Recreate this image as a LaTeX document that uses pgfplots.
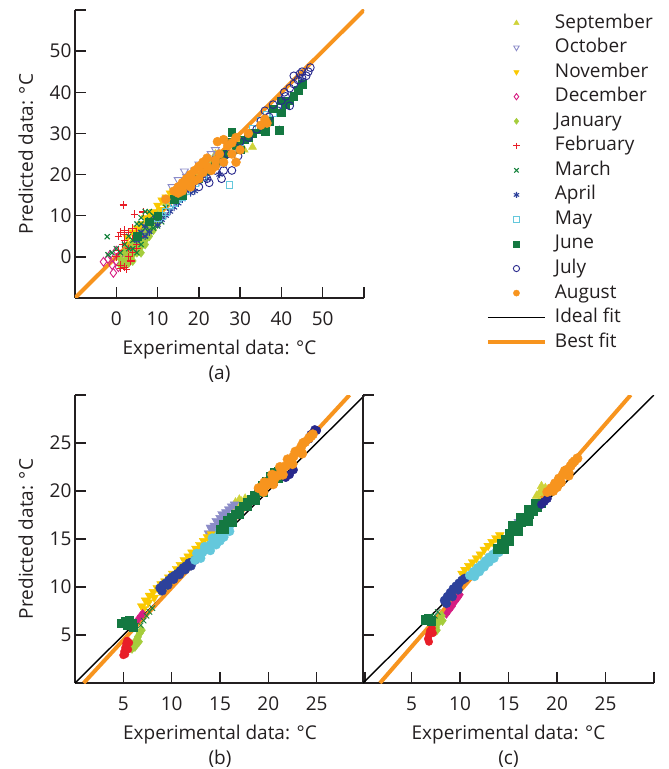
\documentclass[border=0pt]{standalone}
\usepackage{pgfplots}
\pgfplotsset{compat=1.18}
\usepackage{fontspec}
\setmainfont{Open Sans}
\definecolor{cSep}{RGB}{207,211,58}
\definecolor{cOct}{RGB}{140,140,200}
\definecolor{cNov}{RGB}{250,200,0}
\definecolor{cDec}{RGB}{214,30,130}
\definecolor{cJan}{RGB}{165,205,60}
\definecolor{cFeb}{RGB}{232,30,40}
\definecolor{cMar}{RGB}{20,130,60}
\definecolor{cApr}{RGB}{45,65,155}
\definecolor{cMay}{RGB}{100,200,220}
\definecolor{cJun}{RGB}{20,120,65}
\definecolor{cJul}{RGB}{40,40,140}
\definecolor{cAug}{RGB}{247,148,30}
\definecolor{cAx}{RGB}{35,31,32}
\newcommand{\F}{\fontsize{19}{23}\selectfont}
\pgfplotsset{
  base/.style={
    scale only axis,
    axis lines=left,
    axis line style={-, line width=1.5pt, cAx},
    tick align=inside,
    major tick length=11pt,
    tick style={line width=1.5pt, cAx},
    /pgf/number format/assume math mode=true,
    tick label style={font=\F, text=cAx},
    label style={font=\F, text=cAx},
    xlabel style={align=center, at={(axis description cs:0.5,-0.22)}, anchor=center},
    ylabel style={at={(axis description cs:-0.17,0.5)}, anchor=center},
    xticklabel shift=10pt,
    clip=true,
  },
  aSep/.style={only marks, mark=triangle*, color=cSep, mark size=4.6pt},
  aOct/.style={only marks, mark=triangle, color=cOct, mark size=4.6pt, mark options={rotate=180, line width=0.9pt}},
  aNov/.style={only marks, mark=triangle*, color=cNov, mark size=4.6pt, mark options={rotate=180}},
  aDec/.style={only marks, mark=diamond, color=cDec, mark size=4.4pt, mark options={line width=0.9pt}},
  aJan/.style={only marks, mark=diamond*, color=cJan, mark size=4.6pt},
  aFeb/.style={only marks, mark=+, color=cFeb, mark size=3.8pt, mark options={line width=1.1pt}},
  aMar/.style={only marks, mark=x, color=cMar, mark size=3.6pt, mark options={line width=1.1pt}},
  aApr/.style={only marks, mark=asterisk, color=cApr, mark size=3.6pt, mark options={line width=1.1pt}},
  aMay/.style={only marks, mark=square, color=cMay, mark size=3.4pt, mark options={line width=0.9pt}},
  aJun/.style={only marks, mark=square*, color=cJun, mark size=3.8pt},
  aJul/.style={only marks, mark=o, color=cJul, mark size=3.9pt, mark options={line width=0.9pt}},
  aAug/.style={only marks, mark=*, color=cAug, mark size=4.5pt},
  bSep/.style={only marks, mark=triangle*, color=cSep, mark size=5pt},
  bOct/.style={only marks, mark=triangle*, color=cOct, mark size=5pt, mark options={rotate=180}},
  bNov/.style={only marks, mark=triangle*, color=cNov, mark size=5pt, mark options={rotate=180}},
  bDec/.style={only marks, mark=diamond*, color=cDec, mark size=4.5pt},
  bJan/.style={only marks, mark=diamond*, color=cJan, mark size=5pt},
  bFeb/.style={only marks, mark=*, color=cFeb, mark size=3.8pt},
  bMar/.style={only marks, mark=x, color=cMar, mark size=3.8pt, mark options={line width=0.8pt}},
  bApr/.style={only marks, mark=*, color=cApr, mark size=4.5pt},
  bMay/.style={only marks, mark=*, color=cMay, mark size=4.5pt},
  bJun/.style={only marks, mark=square*, color=cJun, mark size=4.2pt},
  bJul/.style={only marks, mark=*, color=cJul, mark size=4.2pt},
  bAug/.style={only marks, mark=*, color=cAug, mark size=4.8pt},
  ideal/.style={no marks, black, line width=1.4pt},
  best/.style={no marks, cAug, line width=4pt},
}
\begin{document}
\begin{tikzpicture}
\useasboundingbox (0,0) rectangle (669pt,769pt);
% ---------------- (a)
\begin{axis}[base,
  at={(75pt,471pt)}, anchor=south west,
  width=289pt, height=288pt,
  xmin=-10, xmax=60, ymin=-10, ymax=60,
  xtick={0,10,...,60}, xticklabels={0,10,20,30,40,50,{}},
  ytick={0,10,...,60}, yticklabels={0,10,20,30,40,50,{}},
  xlabel={Experimental data: °C\\[2pt](a)},
  ylabel={Predicted data: °C},
  legend cell align=left,
  legend image code/.code={\draw[mark repeat=2,mark phase=2,#1] plot coordinates {(0pt,0pt) (28.5pt,0pt) (57pt,0pt)};},
  legend image post style={mark size=3.1pt},
  legend style={at={(1.422,0.986)}, anchor=north west, draw=none, fill=none,
    inner sep=0pt, outer sep=0pt, row sep=6.55pt, column sep=8pt, font=\F, text=cAx,
    nodes={inner sep=0pt, text height=14pt, text depth=4pt}},
]
\addplot[aSep] coordinates {(5,6) (8,9.5) (12,13) (16,17) (19,20) (21,22.5) (23,23) (24,25) (26,24.5) (28,27) (30,28.5) (31,26) (33,26.7) (27,26) (22,21) (18,18.5) (14,15) (10,11)};
\addlegendentry{September}
\addplot[aOct] coordinates {(13.5,17) (15,18.7) (16,17.5) (17,19.5) (19,21) (20,22.5) (21,22) (22,23.5) (18,20) (12,14) (14,16) (23,25) (24,26) (16.5,20.8)};
\addlegendentry{October}
\addplot[aNov] coordinates {(2.7,4.6) (4,6) (5,7) (6,8) (7,9.5) (8,10.5) (9,11) (10,12.5) (11,13.8) (12,14.5) (13,15.5) (13.8,16) (15,16.5) (3,3) (6,6.5) (9,9.5) (11,11.5)};
\addlegendentry{November}
\addplot[aDec] coordinates {(-3.1,-1.2) (-0.7,-3.9) (-2,-0.5) (-1,-2) (0,-1) (1,0.5) (0.5,-2.5) (2,1) (-1.5,0.5) (1.5,-1.5) (3,2) (0,1.5)};
\addlegendentry{December}
\addplot[aJan] coordinates {(1,-2) (2,-2) (2,-1) (3,-1.5) (3,0) (4,0.5) (4,-1) (5,1) (5,2) (6,2.5) (6,4) (7,4) (7,5.5) (8,6) (8,7.5) (3,2) (4,3.5) (2,1) (5,3) (9,8) (1,-0.5) (6,1) (7,3) (8,5) (9,6.5) (10,8) (4,2) (6,5.5) (3,-0.5) (5,4.5) (7,7) (10,10)};
\addlegendentry{January}
\addplot[aFeb] coordinates {(1.7,12.6) (4.4,10.4) (6.5,10.9) (0.5,5) (1,6) (2,4) (1.5,3) (2,-2.5) (1,-2) (2.5,-3) (3,0) (3,2) (4,1) (4,4.5) (5,3) (5,6) (6,5) (0,0) (0.5,1.5) (2,6.5) (3.5,-1) (4,7) (1,-2.8) (2,5.5) (3,6) (5,2)};
\addlegendentry{February}
\addplot[aMar] coordinates {(-2.2,4.9) (-2,0.5) (-1,1) (0,2) (1,1) (2,3) (3,2) (3,5) (4,4) (5,5) (6,6) (6,8) (7,7) (8,9) (8,11) (9,10) (10,9) (11,10) (12,12) (7,11) (5,8) (4,2) (9,7) (6,3) (5,1) (7,5) (8,6.5) (10,7.5) (11,8.5) (6,9.5)};
\addlegendentry{March}
\addplot[aApr] coordinates {(5,4) (7,5) (8,6) (10,7.8) (11,9) (12,10) (13,11) (14,12) (15,13) (16,14) (18,15.5) (19,16) (20,18) (22,19) (25,20) (23,22) (26,22.5) (28,25) (30,27) (33,30) (35,32) (37,33) (39.5,31) (40,36) (42,38) (44,41) (45,43) (9,9) (17,16) (6,6) (7,7.5) (21,20) (24,24)};
\addlegendentry{April}
\addplot[aMay] coordinates {(8,8.5) (10,9.5) (11,10) (12,11) (13,12.5) (14,13) (15,14) (16,14.5) (17,16) (19,18) (21,19.5) (23,21) (25,23) (27.4,17.5) (28,26) (30,28) (33,31) (36.5,34.5) (35,33) (38,35)};
\addlegendentry{May}
\addplot[aJun] coordinates {(5,5) (8,8.5) (10,10) (14,14) (16,15) (20,19) (22,21) (24,23) (26,25) (28,30.3) (27,28) (29,27) (30,26) (31,28.5) (33,30) (35,31) (36,30.5) (37,33) (39.5,30.8) (40,35) (38,36) (41,37) (42,38) (44,40.5) (43,39) (45,42) (40,38) (32,29)};
\addlegendentry{June}
\addplot[aJul] coordinates {(20,17) (22,19) (24,21) (26,21) (27,25) (29.5,24.5) (30,28) (32,29) (34,31) (35,33) (36,35.5) (37,34) (38,37) (40,38) (40.7,40) (42,36.7) (42,41) (43,42) (44,43) (45,43.5) (46,44) (47,46) (46.5,45) (44.5,44.5) (41,39) (25.5,19) (28,21) (22.5,18) (43,44) (45,45)};
\addlegendentry{July}
\addplot[aAug] coordinates {(12,14) (14,16) (15,17) (16,18) (16,16) (17,19) (18,17) (18,20) (19,21) (19,18.5) (20,22) (20,19) (21,23) (21,20.5) (22,24) (22,22) (23,21) (24,23.5) (24.5,28) (25,25) (26,23) (27,27) (28,27.7) (28,25) (29,29) (29,23) (30,26) (32,30) (36,33.5) (35,32) (24,22) (36.5,32.5) (26,28.5) (15,15.5) (17,17.5)};
\addlegendentry{August}
\addplot[ideal] coordinates {(-10,-10) (60,60)};
\addlegendentry{Ideal fit}
\addplot[best] coordinates {(-10,-10) (60,60)};
\addlegendentry{Best fit}
\end{axis}
% ---------------- (b)
\begin{axis}[base,
  at={(75pt,86pt)}, anchor=south west,
  width=290pt, height=288pt,
  xmin=0, xmax=30, ymin=0, ymax=30,
  xtick={5,10,...,30}, xticklabels={5,10,15,20,25,{}},
  ytick={5,10,...,30}, yticklabels={5,10,15,20,25,{}},
  xlabel={Experimental data: °C\\[2pt](b)},
  ylabel={Predicted data: °C},
]
\addplot[bSep] coordinates {(16.4,18.3) (16.8,18.6) (17.2,18.9) (17.6,19.2) (16.6,18.8) (17.0,19.1)};
\addplot[bOct] coordinates {(13.8,15.6) (14.1,16.0) (14.4,16.4) (14.7,16.8) (15.0,17.2) (15.3,17.5) (15.6,17.8) (15.9,18.1) (16.2,18.4) (16.5,18.6) (14.3,15.8) (14.8,16.3) (15.3,16.8) (15.8,17.3) (14.0,16.2) (14.6,16.9) (15.2,17.6)};
\addplot[bNov] coordinates {(6.9,8.0) (7.3,8.6) (7.7,9.1) (8.1,9.5) (8.5,9.9) (8.9,10.3) (9.3,10.6) (9.7,11.0) (10.1,11.4) (10.5,11.9) (10.9,12.3) (11.3,12.8) (11.7,13.2) (12.1,13.6) (12.5,14.0) (12.9,14.4) (13.3,14.8) (13.7,15.2) (14.1,15.5) (7.1,7.7) (7.6,8.4) (8.2,8.9) (8.8,9.6) (9.4,10.1) (10.0,10.7) (10.6,11.4) (11.2,12.0) (11.8,12.6) (12.4,13.2) (13.0,13.8) (13.6,14.4)};
\addplot[bDec] coordinates {(6.5,6.6) (6.8,7.0) (7.0,7.2)};
\addplot[bJan] coordinates {(5.9,3.6) (6.1,4.0) (6.3,4.4) (6.5,4.8) (6.7,5.2) (6.9,5.5) (6.2,3.8) (6.6,4.3)};
\addplot[bFeb] coordinates {(5.0,2.9) (5.1,3.3) (5.2,3.7) (5.3,4.1) (5.4,4.4) (5.6,4.2) (5.5,3.5) (5.2,3.0)};
\addplot[bMar] coordinates {(6.8,6.0) (7.1,6.5) (7.4,7.0) (7.7,7.4) (8.0,7.8)};
\addplot[bApr] coordinates {(8.8,9.9) (9.1,10.2) (9.4,10.4) (9.7,10.7) (10.0,11.0) (10.3,11.2) (10.6,11.4) (10.9,11.7) (11.2,12.0) (11.5,12.2) (11.8,12.5) (12.1,12.6) (12.4,12.8) (9.0,9.6) (9.6,10.2) (10.2,10.8) (10.8,11.3) (11.4,11.8) (12.0,12.2)};
\addplot[bMay] coordinates {(12.4,12.8) (12.8,13.2) (13.2,13.6) (13.6,14.0) (14.0,14.4) (14.4,14.9) (14.8,15.3) (15.2,15.6) (15.6,16.0) (16.0,16.4) (15.4,15.2) (14.6,14.4) (12.6,13.5) (13.4,14.2) (14.2,15.1) (15.0,15.9) (15.8,16.6) (13.0,13.0) (14.0,13.8) (15.0,14.8) (16.0,15.8) (16.3,16.7)};
\addplot[bJun] coordinates {(4.8,6.2) (5.2,6.4) (5.6,6.5) (5.9,6.2) (5.4,6.0) (6.0,5.8) (15.0,16.0) (15.4,16.5) (15.8,16.9) (16.2,17.3) (16.6,17.6) (17.0,18.0) (17.4,18.4) (17.8,18.8) (18.2,19.1) (18.6,19.5) (19.0,20.0) (19.4,20.6) (19.8,21.0) (20.2,21.5) (20.6,21.9) (21.0,22.0) (21.4,21.6) (20.5,21.0) (15.4,16.0) (16.2,16.8) (17.0,17.6) (17.8,18.4) (18.6,19.1) (19.4,19.9) (20.2,20.8) (21.0,21.4)};
\addplot[bJul] coordinates {(21.8,21.4) (22.2,21.7) (22.6,22.2) (24.2,25.4) (24.6,26.0) (25.0,26.3) (24.4,25.9) (24.8,26.4)};
\addplot[bAug] coordinates {(19.0,20.3) (19.4,20.4) (19.8,20.6) (20.2,20.9) (20.6,21.2) (21.0,21.6) (21.4,22.2) (21.8,22.6) (22.2,23.1) (22.6,23.6) (23.0,24.1) (23.4,24.6) (23.8,25.1) (24.2,25.5) (24.6,25.9) (19.6,20.9) (20.4,21.7) (21.2,22.5) (22.0,23.3) (22.8,24.1) (23.6,25.0) (24.4,25.7) (19.5,19.9) (20.5,20.7) (21.5,21.7) (22.5,22.8) (23.5,23.9)};
\addplot[ideal] coordinates {(0,0) (30,30)};
\addplot[best] coordinates {(0.9,0) (28.4,30)};
\end{axis}
% ---------------- (c)
\begin{axis}[base,
  at={(363pt,86pt)}, anchor=south west,
  width=291pt, height=288pt,
  xmin=0, xmax=30, ymin=0, ymax=30,
  xtick={5,10,...,30}, xticklabels={5,10,15,20,25,{}},
  ytick={5,10,...,30}, yticklabels={},
  xlabel={Experimental data: °C\\[2pt](c)},
]
\addplot[bSep] coordinates {(17.9,19.5) (18.2,19.8) (18.5,20.1) (18.8,20.3) (18.4,20.5)};
\addplot[bOct] coordinates {(15.6,16.4) (16.0,16.8)};
\addplot[bNov] coordinates {(10.5,11.8) (10.9,12.2) (11.3,12.6) (11.7,13.0) (12.1,13.4) (12.5,13.9) (12.9,14.3) (13.3,14.7) (13.7,15.1) (14.1,15.4) (10.2,11.4)};
\addplot[bDec] coordinates {(8.6,7.2) (8.9,7.6) (9.2,8.0) (9.5,8.5) (9.8,8.9) (10.0,9.2) (8.8,7.9) (9.4,8.7)};
\addplot[bJan] coordinates {(7.3,5.4) (7.5,5.8) (7.7,6.2) (7.9,6.6) (8.1,7.0) (7.6,5.5) (8.2,6.5)};
\addplot[bFeb] coordinates {(6.7,4.6) (6.8,5.0) (6.9,5.4) (7.1,5.7) (7.2,5.2) (6.8,4.3)};
\addplot[bMar] coordinates {(7.4,7.0) (7.7,7.4)};
\addplot[bApr] coordinates {(8.4,8.6) (8.7,9.0) (9.0,9.4) (9.3,9.8) (9.6,10.1) (9.9,10.4) (10.2,10.7) (10.5,10.9) (8.6,8.3) (9.2,9.0) (9.8,9.7)};
\addplot[bMay] coordinates {(11.0,11.2) (11.4,11.6) (11.8,12.0) (12.2,12.3) (12.6,12.7) (13.0,13.1) (13.4,13.4) (13.8,13.8) (14.2,14.2) (12.0,11.6) (13.0,12.6) (11.5,11.1) (12.5,12.1) (13.5,13.0) (14.0,13.6)};
\addplot[bJun] coordinates {(6.4,6.6) (6.7,6.7) (7.0,6.5) (13.9,14.0) (14.3,14.5) (14.7,15.0) (15.1,15.6) (15.5,16.0) (15.9,16.4) (16.3,16.8) (16.7,17.2) (17.1,17.6) (17.5,17.9) (17.9,18.3) (18.3,18.7) (14.5,14.0) (15.0,14.8) (15.4,16.4) (16.2,17.3) (17.0,18.1) (17.8,18.7) (16.0,15.8) (17.0,16.9)};
\addplot[bJul] coordinates {(18.4,18.6) (18.7,18.9) (19.0,19.2)};
\addplot[bAug] coordinates {(19.0,19.9) (19.4,20.3) (19.8,20.8) (20.2,21.3) (20.6,21.7) (21.0,22.2) (21.4,22.6) (21.8,23.1) (22.1,23.4) (20.0,20.4) (21.2,21.9) (19.6,20.0) (20.4,20.9) (21.2,21.6) (21.6,22.9) (20.8,22.1)};
\addplot[ideal] coordinates {(0,0) (30,30)};
\addplot[best] coordinates {(1.75,0) (27.6,30)};
\end{axis}
\end{tikzpicture}
\end{document}
